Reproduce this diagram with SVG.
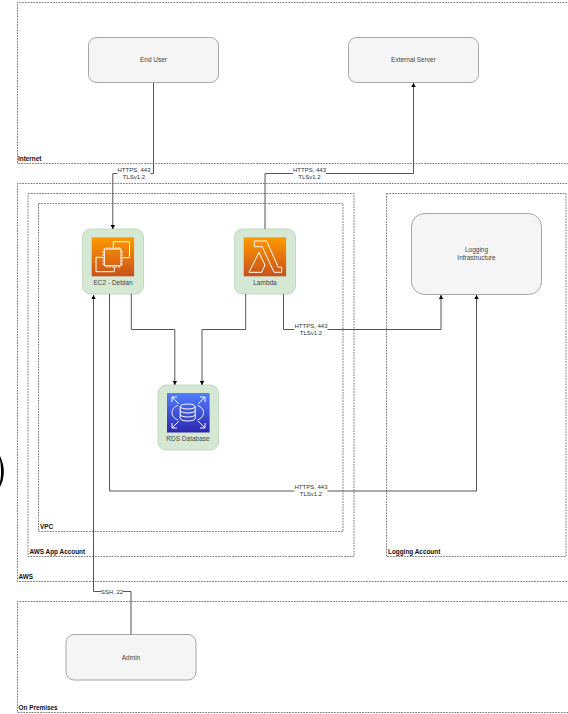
<svg xmlns="http://www.w3.org/2000/svg" width="568" height="714" viewBox="0 0 568 714">
  <style>
    text { font-family: "Liberation Sans", Arial, sans-serif; font-size: 6.5px; fill: #444; text-anchor: middle; }
    .zone { fill: none; stroke: #555; stroke-width: 0.75; stroke-dasharray: 1.8 1; }
    .zl { font-weight: bold; font-size: 6.4px; fill: #111; text-anchor: start; }
    .cl { font-size: 6px; fill: #333; }
    .box { fill: #f5f5f5; stroke: #a6a6a6; stroke-width: 1; }
    .svc { fill: #d5e8d4; stroke: #b9d3b6; stroke-width: 0.8; }
    .conn { fill: none; stroke: #555; stroke-width: 1; }
    .lb { fill: #fff; }
    .ic { fill: none; stroke: #fff; stroke-width: 1; }
  </style>
  <defs>
    <linearGradient id="org" x1="0" y1="1" x2="0" y2="0"><stop offset="0" stop-color="#c8511b"/><stop offset="1" stop-color="#ff9900"/></linearGradient>
    <linearGradient id="blu" x1="0" y1="1" x2="0" y2="0"><stop offset="0" stop-color="#2e27ad"/><stop offset="1" stop-color="#527fff"/></linearGradient>
    <marker id="ah" markerWidth="5" markerHeight="5" refX="4" refY="2.2" orient="auto" markerUnits="userSpaceOnUse"><path d="M0,0 L4,2.2 L0,4.4 Z" fill="#000"/></marker>
  </defs>
  <rect width="568" height="714" fill="#fff"/>
  <path d="M0,456 C3,462 4,468 3.8,472 C3.8,478 2.2,483 0,487 L0,482 C0.8,479 1,475 1,472 C1,468 0.8,464 0,460 Z" fill="#000"/>

  <g id="zone-internet"><path class="zone" d="M570,2.5 H17.5 V163.5 H570"/><text class="zl" x="18" y="160.8">Internet</text></g>
  <g id="zone-aws"><path class="zone" d="M570,183.5 H17.5 V581.5 H570"/><text class="zl" x="18.5" y="578.8">AWS</text></g>
  <g id="zone-app"><rect class="zone" x="28" y="193.5" width="326" height="363"/><text class="zl" x="29.5" y="553.8">AWS App Account</text></g>
  <g id="zone-vpc"><rect class="zone" x="38.5" y="203.5" width="304.5" height="328"/><text class="zl" x="40" y="528.8">VPC</text></g>
  <g id="zone-logging"><rect class="zone" x="386.5" y="193.5" width="179.5" height="363"/><text class="zl" x="388" y="553.8">Logging Account</text></g>
  <g id="zone-onprem"><path class="zone" d="M570,601.5 H17.5 V712.5 H570"/><text class="zl" x="18.5" y="709.8">On Premises</text></g>

  <g id="end-user"><rect class="box" x="88.5" y="37.5" width="130" height="45" rx="8"/><text x="153.5" y="62">End User</text></g>
  <g id="external-server"><rect class="box" x="348.5" y="37.5" width="130" height="45" rx="8"/><text x="413.5" y="62">External Server</text></g>
  <g id="logging-infra"><rect class="box" x="411.5" y="213.5" width="130" height="81" rx="13"/><text x="476.5" y="252.3">Logging</text><text x="476.5" y="260">Infrastructure</text></g>
  <g id="admin"><rect class="box" x="66" y="634.5" width="130" height="45.5" rx="8"/><text x="131" y="659.5">Admin</text></g>

  <g id="ec2">
    <rect class="svc" x="82.5" y="229" width="61" height="65" rx="8"/>
    <rect x="91.7" y="237.3" width="42.4" height="39" fill="url(#org)"/>
    <path class="ic" d="M113.3,248 V241.7 H129.5 V257.7 H122.5 M103,257.3 H96 V271.7 H114.3 V267"/>
    <rect class="ic" x="104.3" y="249" width="16.7" height="16.7" stroke-width="1.2"/>
    <path class="ic" stroke-width="0.6" d="M107,249 V247 M110,249 V247 M113,249 V247 M116,249 V247 M119,249 V247 M107,265.7 V267.7 M110,265.7 V267.7 M113,265.7 V267.7 M116,265.7 V267.7 M119,265.7 V267.7 M104.3,252 H102.3 M104.3,255 H102.3 M104.3,258 H102.3 M104.3,261 H102.3 M104.3,264 H102.3 M121,252 H123 M121,255 H123 M121,258 H123 M121,261 H123 M121,264 H123"/>
    <text x="113" y="285">EC2 - Debian</text>
  </g>
  <g id="lambda">
    <rect class="svc" x="234.5" y="229" width="61" height="65" rx="8"/>
    <rect x="243.7" y="237.3" width="42.4" height="39" fill="url(#org)"/>
    <path class="ic" d="M254.3,241 H266.7 L278.3,267.3 H281.7 V272.3 H274 L262.3,246.7 H254.3 Z M249,272.3 L259,252.3 L265,265 L261.7,272.3 Z"/>
    <text x="265" y="285">Lambda</text>
  </g>
  <g id="rds">
    <rect class="svc" x="158" y="385" width="60.5" height="65" rx="8"/>
    <rect x="167" y="393" width="42.6" height="39.5" fill="url(#blu)"/>
    <ellipse class="ic" cx="187.7" cy="406.5" rx="7.5" ry="2.5"/>
    <path class="ic" d="M180.2,406.5 V418.5 C180.2,421.8 195.2,421.8 195.2,418.5 V406.5 M180.2,410.5 C180.2,413.8 195.2,413.8 195.2,410.5 M180.2,414.5 C180.2,417.8 195.2,417.8 195.2,414.5"/>
    <path class="ic" d="M178,405.5 C170,408 170,417 178,420 M197.5,405.5 C205.5,408 205.5,417 197.5,420"/>
    <path class="ic" d="M172,397 L179,404 M172,397 H177 M172,397 V402 M205,397 L198,404 M205,397 H200 M205,397 V402 M172,428 L179,421 M172,428 H177 M172,428 V423 M205,428 L198,421 M205,428 H200 M205,428 V423"/>
    <text x="188" y="441.3">RDS Database</text>
  </g>

  <g id="connectors">
    <path class="conn" marker-end="url(#ah)" d="M153.5,83 V173.5 H112.8 V229"/>
    <path class="conn" marker-end="url(#ah)" d="M265,229 V173.5 H413.5 V83"/>
    <path class="conn" marker-end="url(#ah)" d="M131.3,294 V329.5 H174.8 V385"/>
    <path class="conn" marker-end="url(#ah)" d="M245.7,294 V329.5 H202 V385"/>
    <path class="conn" marker-end="url(#ah)" d="M283.5,294 V329.5 H441 V295"/>
    <path class="conn" marker-end="url(#ah)" d="M109.5,294 V491 H476.5 V295"/>
    <path class="conn" marker-end="url(#ah)" d="M131,634.5 V591.5 H93.5 V295"/>
    <g id="label-enduser"><rect class="lb" x="117.5" y="167" width="33" height="14"/><text class="cl" x="134" y="172.4">HTTPS, 443</text><text class="cl" x="134" y="179.4">TLSv1.2</text></g>
    <g id="label-external"><rect class="lb" x="293" y="166" width="33" height="14"/><text class="cl" x="309.5" y="171.5">HTTPS, 443</text><text class="cl" x="309.5" y="178.5">TLSv1.2</text></g>
    <g id="label-logging1"><rect class="lb" x="294.5" y="323" width="33" height="14"/><text class="cl" x="311" y="328.4">HTTPS, 443</text><text class="cl" x="311" y="335.4">TLSv1.2</text></g>
    <g id="label-logging2"><rect class="lb" x="294.5" y="484" width="33" height="14"/><text class="cl" x="311" y="489.2">HTTPS, 443</text><text class="cl" x="311" y="496.4">TLSv1.2</text></g>
    <g id="label-ssh"><rect class="lb" x="101" y="588" width="22" height="7"/><text class="cl" x="112" y="593.7">SSH, 22</text></g>
  </g>
</svg>
